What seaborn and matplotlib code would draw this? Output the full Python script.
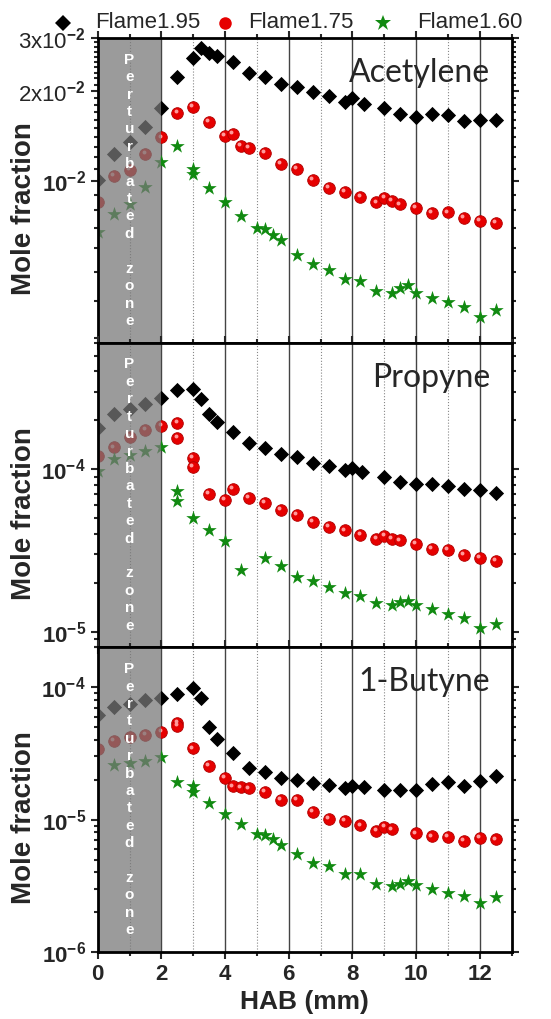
import matplotlib
matplotlib.use('Agg')
import matplotlib.pyplot as plt
import matplotlib.transforms as mtransforms
from matplotlib.lines import Line2D
import seaborn as sns

# Acetylene (top panel)
c2h2_x_195 = [0, 0.5, 1, 1.5, 2, 2.5, 3, 3.25, 3.5, 3.75, 4.25, 4.75, 5.25, 5.75, 6.25, 6.75, 7.25, 7.75, 8, 8.35, 9, 9.5, 10, 10.5, 11, 11.5, 12, 12.5]
c2h2_y_195 = [1.01e-2, 1.23e-2, 1.35e-2, 1.52e-2, 1.76e-2, 2.23e-2, 2.58e-2, 2.77e-2, 2.67e-2, 2.61e-2, 2.50e-2, 2.29e-2, 2.22e-2, 2.11e-2, 2.06e-2, 1.98e-2, 1.93e-2, 1.84e-2, 1.90e-2, 1.81e-2, 1.75e-2, 1.67e-2, 1.64e-2, 1.67e-2, 1.66e-2, 1.59e-2, 1.60e-2, 1.60e-2]
c2h2_x_175 = [0, 0.5, 1, 1.5, 2, 2.5, 3, 3.5, 4, 4.25, 4.5, 4.75, 5.25, 5.75, 6.25, 6.75, 7.25, 7.75, 8.25, 8.75, 9, 9.25, 9.5, 10, 10.5, 11, 11.5, 12, 12.5]
c2h2_y_175 = [8.51e-3, 1.04e-2, 1.09e-2, 1.23e-2, 1.40e-2, 1.69e-2, 1.77e-2, 1.58e-2, 1.42e-2, 1.44e-2, 1.31e-2, 1.29e-2, 1.24e-2, 1.14e-2, 1.10e-2, 1.01e-2, 9.52e-3, 9.21e-3, 8.89e-3, 8.51e-3, 8.80e-3, 8.58e-3, 8.38e-3, 8.17e-3, 7.84e-3, 7.88e-3, 7.53e-3, 7.40e-3, 7.25e-3]
c2h2_x_160 = [0, 0.5, 1, 1.5, 2, 2.5, 3, 3, 3.5, 4, 4.5, 5, 5.25, 5.5, 5.75, 6.25, 6.75, 7.25, 7.75, 8.25, 8.75, 9.25, 9.5, 9.75, 10, 10.5, 11, 11.5, 12, 12.5]
c2h2_y_160 = [6.77e-3, 7.78e-3, 8.40e-3, 9.55e-3, 1.16e-2, 1.31e-2, 1.10e-2, 1.06e-2, 9.50e-3, 8.51e-3, 7.68e-3, 6.98e-3, 6.94e-3, 6.63e-3, 6.35e-3, 5.66e-3, 5.30e-3, 5.07e-3, 4.73e-3, 4.64e-3, 4.30e-3, 4.24e-3, 4.41e-3, 4.50e-3, 4.25e-3, 4.10e-3, 3.96e-3, 3.81e-3, 3.53e-3, 3.72e-3]

# Propyne (middle panel)
c3h4_x_195 = [0, 0.5, 1, 1.5, 2, 2.5, 3, 3.25, 3.5, 3.75, 4.25, 4.75, 5.25, 5.75, 6.25, 6.75, 7.25, 7.75, 8, 8.3, 9, 9.5, 10, 10.5, 11, 11.5, 12, 12.5]
c3h4_y_195 = [1.79e-4, 2.19e-4, 2.33e-4, 2.50e-4, 2.75e-4, 3.05e-4, 3.13e-4, 2.69e-4, 2.17e-4, 1.96e-4, 1.70e-4, 1.45e-4, 1.35e-4, 1.24e-4, 1.18e-4, 1.09e-4, 1.05e-4, 9.86e-5, 1.01e-4, 9.63e-5, 8.97e-5, 8.39e-5, 8.08e-5, 8.08e-5, 7.89e-5, 7.52e-5, 7.42e-5, 7.17e-5]
c3h4_x_175 = [0, 0.5, 1, 1.5, 2, 2.5, 2.5, 3, 3, 3.5, 4, 4.25, 4.75, 5.25, 5.75, 6.25, 6.75, 7.25, 7.75, 8.25, 8.75, 9, 9.25, 9.5, 10, 10.5, 11, 11.5, 12, 12.5]
c3h4_y_175 = [1.20e-4, 1.36e-4, 1.57e-4, 1.75e-4, 1.85e-4, 1.93e-4, 1.55e-4, 1.17e-4, 1.03e-4, 7.07e-5, 6.43e-5, 7.59e-5, 6.62e-5, 6.19e-5, 5.58e-5, 5.24e-5, 4.72e-5, 4.40e-5, 4.20e-5, 3.96e-5, 3.74e-5, 3.87e-5, 3.71e-5, 3.64e-5, 3.47e-5, 3.23e-5, 3.19e-5, 2.95e-5, 2.83e-5, 2.71e-5]
c3h4_x_160 = [0, 0.5, 1, 1.5, 2, 2.5, 2.5, 3, 3.5, 4, 4.5, 5.25, 5.75, 6.25, 6.75, 7.25, 7.75, 8.25, 8.75, 9.25, 9.5, 9.75, 10, 10.5, 11, 11.5, 12, 12.5]
c3h4_y_160 = [9.76e-5, 1.15e-4, 1.22e-4, 1.30e-4, 1.36e-4, 7.34e-5, 6.37e-5, 4.98e-5, 4.20e-5, 3.60e-5, 2.39e-5, 2.84e-5, 2.52e-5, 2.18e-5, 2.04e-5, 1.87e-5, 1.73e-5, 1.66e-5, 1.49e-5, 1.45e-5, 1.53e-5, 1.55e-5, 1.45e-5, 1.37e-5, 1.28e-5, 1.21e-5, 1.06e-5, 1.12e-5]

# 1-Butyne (bottom panel)
c4h6_x_195 = [0, 0.5, 1, 1.5, 2, 2.5, 3, 3.25, 3.5, 3.75, 4.25, 4.75, 5.25, 5.75, 6.25, 6.75, 7.25, 7.75, 8, 8.35, 9, 9.5, 10, 10.5, 11, 11.5, 12, 12.5]
c4h6_y_195 = [6.21e-5, 7.06e-5, 7.47e-5, 8.02e-5, 8.30e-5, 8.85e-5, 9.83e-5, 8.30e-5, 5.04e-5, 4.06e-5, 3.18e-5, 2.46e-5, 2.30e-5, 2.07e-5, 1.99e-5, 1.88e-5, 1.82e-5, 1.73e-5, 1.80e-5, 1.75e-5, 1.68e-5, 1.68e-5, 1.67e-5, 1.86e-5, 1.93e-5, 1.78e-5, 1.96e-5, 2.12e-5]
c4h6_x_175 = [0, 0.5, 1, 1.5, 2, 2.5, 2.5, 3, 3.5, 4, 4.25, 4.5, 4.75, 5.25, 5.75, 6.25, 6.75, 7.25, 7.75, 8.25, 8.75, 9, 9.25, 10, 10.5, 11, 11.5, 12, 12.5]
c4h6_y_175 = [3.41e-5, 3.94e-5, 4.18e-5, 4.35e-5, 4.61e-5, 5.37e-5, 5.12e-5, 3.45e-5, 2.55e-5, 2.07e-5, 1.78e-5, 1.75e-5, 1.72e-5, 1.63e-5, 1.40e-5, 1.40e-5, 1.15e-5, 1.01e-5, 9.83e-6, 9.06e-6, 8.20e-6, 8.80e-6, 8.45e-6, 7.88e-6, 7.48e-6, 7.39e-6, 6.93e-6, 7.31e-6, 7.10e-6]
c4h6_x_160 = [0.5, 1, 1.5, 2, 2.5, 3, 3, 3.5, 4, 4.5, 5, 5.25, 5.5, 5.75, 6.25, 6.75, 7.25, 7.75, 8.25, 8.75, 9.25, 9.5, 9.75, 10, 10.5, 11, 11.5, 12, 12.5]
c4h6_y_160 = [2.58e-5, 2.67e-5, 2.77e-5, 2.95e-5, 1.91e-5, 1.78e-5, 1.62e-5, 1.33e-5, 1.10e-5, 9.22e-6, 7.74e-6, 7.61e-6, 7.18e-6, 6.46e-6, 5.52e-6, 4.72e-6, 4.46e-6, 3.86e-6, 3.90e-6, 3.29e-6, 3.14e-6, 3.29e-6, 3.47e-6, 3.22e-6, 2.97e-6, 2.80e-6, 2.67e-6, 2.35e-6, 2.59e-6]

species = ['Acetylene', 'Propyne', '1-Butyne']
flames = ['Flame1.95', 'Flame1.75', 'Flame1.60']
ylims = [(2.9e-3, 3e-2), (8e-6, 6e-4), (1e-6, 2e-4)]
yticks = [[1e-2, 2e-2, 3e-2], [1e-5, 1e-4], [1e-6, 1e-5, 1e-4]]
yticklabels = [[r'$10^{-2}$', r'2x10$^{-2}$', r'3x10$^{-2}$'],
               [r'$10^{-5}$', r'$10^{-4}$'],
               [r'$10^{-6}$', r'$10^{-5}$', r'$10^{-4}$']]
panels = [
    [(c2h2_x_195, c2h2_y_195), (c2h2_x_175, c2h2_y_175), (c2h2_x_160, c2h2_y_160)],
    [(c3h4_x_195, c3h4_y_195), (c3h4_x_175, c3h4_y_175), (c3h4_x_160, c3h4_y_160)],
    [(c4h6_x_195, c4h6_y_195), (c4h6_x_175, c4h6_y_175), (c4h6_x_160, c4h6_y_160)],
]

sns.set_style('ticks')
plt.rcParams['font.family'] = ['Liberation Sans', 'DejaVu Sans']
plt.rcParams['mathtext.fontset'] = 'custom'
plt.rcParams['mathtext.rm'] = 'Liberation Sans:bold'
plt.rcParams['mathtext.it'] = 'Liberation Sans:bold'
plt.rcParams['mathtext.bf'] = 'Liberation Sans:bold'
plt.rcParams['mathtext.default'] = 'rm'

fig, axes = plt.subplots(3, 1, figsize=(5.51, 10.19), dpi=100, sharex=True,
                         gridspec_kw=dict(hspace=0, left=0.1773, right=0.9287,
                                          top=0.9627, bottom=0.0657))

red_c = '#e60000'
green_c = '#118a11'
zone_txt = 'P\ne\nr\nt\nu\nr\nb\na\nt\ne\nd\n\nz\no\nn\ne'

for i, ax in enumerate(axes):
    (x1, y1), (x2, y2), (x3, y3) = panels[i]
    sns.scatterplot(x=x1, y=y1, ax=ax, marker='D', color='black', s=60,
                    edgecolor='black', linewidth=0, zorder=2)
    sns.scatterplot(x=x2, y=y2, ax=ax, marker='o', color=red_c, s=70,
                    edgecolor='#b00000', linewidth=0.6, zorder=2)
    # little highlight to make the red dots look like spheres
    hl = ax.transData + mtransforms.ScaledTranslation(-1.3 / 72, 1.3 / 72, fig.dpi_scale_trans)
    ax.scatter(x2, y2, s=8, color='#ff9a9a', linewidth=0, zorder=2, transform=hl)
    sns.scatterplot(x=x3, y=y3, ax=ax, marker='*', color=green_c, s=120,
                    edgecolor=green_c, linewidth=0, zorder=2)

    ax.set_yscale('log')
    ax.set_xlim(0, 13)
    ax.set_ylim(*ylims[i])

    # perturbated zone
    ax.axvspan(0, 2, color='#787878', alpha=0.74, lw=0, zorder=3)
    ax.text(1, 0.5, zone_txt, transform=ax.get_xaxis_transform(), ha='center', va='center',
            color='white', fontsize=11, fontweight='bold', linespacing=1.31, zorder=4)

    ax.set_xticks(range(0, 14, 2))
    ax.set_xticks(range(1, 14, 2), minor=True)
    ax.grid(axis='x', which='major', color='#444444', lw=1, ls='-', zorder=0)
    ax.grid(axis='x', which='minor', color='#888888', lw=0.8, ls=':', zorder=0)
    ax.grid(axis='y', visible=False)

    if i == 0:
        minors = [k * 1e-3 for k in range(3, 10)] + [k * 1e-3 for k in range(11, 20)] + [k * 1e-3 for k in range(21, 30)]
        ax.set_yticks(minors, minor=True)
    ax.set_yticks(yticks[i], yticklabels[i])
    ax.tick_params(axis='y', which='minor', labelleft=False)

    ax.tick_params(which='both', direction='out', top=True, right=True, width=1.5)
    ax.tick_params(which='major', length=5, labelsize=16)
    ax.tick_params(which='minor', length=3)
    for sp in ax.spines.values():
        sp.set_linewidth(2)
        sp.set_color('black')
        sp.set_zorder(5)

    ax.set_ylabel('Mole fraction', fontsize=20, fontweight='bold')
    ax.yaxis.set_label_coords(-0.147, 0.44)
    ax.text(0.948, 0.885, species[i], transform=ax.transAxes, ha='right', va='center',
            fontsize=23, family='Lato', zorder=6)

axes[2].set_xticklabels([str(v) for v in range(0, 14, 2)], fontweight='bold')
axes[2].set_xlabel('HAB (mm)', fontsize=19, fontweight='bold', labelpad=4)

# legend above the top panel, laid out by hand
W, H = 551, 1019
leg_y = 1 - 23 / H
leg_marks = [('D', 'black', 8), ('o', red_c, 9), ('*', green_c, 12)]
mark_px = [63, 225, 383]
text_px = [95, 248, 417]
for (mk, col, ms), mx, tx, lab in zip(leg_marks, mark_px, text_px, flames):
    fig.add_artist(Line2D([mx / W], [leg_y], transform=fig.transFigure, ls='',
                          marker=mk, color=col, markersize=ms, markeredgewidth=0))
    fig.text(tx / W, leg_y, lab, ha='left', va='center', fontsize=16)

fig.savefig('out.png', dpi=100)
